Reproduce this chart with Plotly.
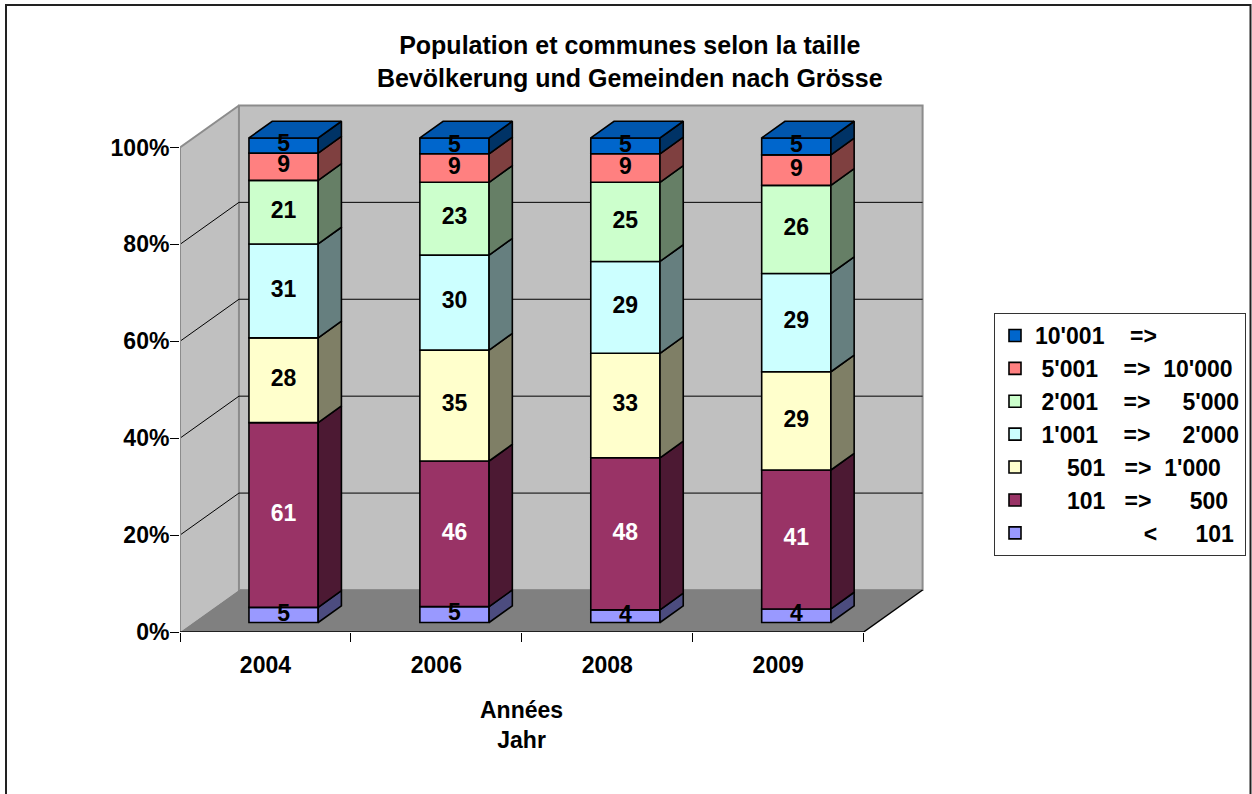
import plotly.graph_objects as go

# ---- data: number of communes per size class ----
years = ["2004", "2006", "2008", "2009"]
lt_101 = [5, 5, 4, 4]
c_101_500 = [61, 46, 48, 41]
c_501_1000 = [28, 35, 33, 29]
c_1001_2000 = [31, 30, 29, 29]
c_2001_5000 = [21, 23, 25, 26]
c_5001_10000 = [9, 9, 9, 9]
c_10001 = [5, 5, 5, 5]

NB = "\u00a0"
class_labels = [
    NB * 17 + "<" + NB * 6 + "101",
    NB * 5 + "101" + NB * 3 + "=>" + NB * 6 + "500",
    NB * 5 + "501" + NB * 3 + "=>" + NB * 2 + "1'000",
    NB + "1'001" + NB * 4 + "=>" + NB * 5 + "2'000",
    NB + "2'001" + NB * 4 + "=>" + NB * 5 + "5'000",
    NB + "5'001" + NB * 4 + "=>" + NB * 2 + "10'000",
    "10'001" + NB * 4 + "=>",
]
series = [lt_101, c_101_500, c_501_1000, c_1001_2000, c_2001_5000, c_5001_10000, c_10001]
front_colors = ["#9999FF", "#993366", "#FFFFCC", "#CCFFFF", "#CCFFCC", "#FF8080", "#0066CC"]
label_colors = ["black", "white", "black", "black", "black", "black", "black"]


def shade(hex_color, f):
    h = hex_color.lstrip("#")
    r, g, b = (int(h[i:i + 2], 16) for i in (0, 2, 4))
    return "rgb(%d,%d,%d)" % (r * f, g * f, b * f)


# ---- 3D geometry (axis units: one category = 1 on x, percent on y) ----
KX, KY = 0.345, 8.67            # wall depth offset
BAR_OFF, BAR_W = 0.106, 0.405   # front face centre offset / width
BAR_BASE = 1.96                 # bars stand slightly behind the front edge
BDX, BDY = 0.136, 3.45          # bar depth offset
NCAT = len(years)

totals = [sum(s[i] for s in series) for i in range(NCAT)]
pct = [[s[i] / totals[i] * 100 for i in range(NCAT)] for s in series]

fig = go.Figure()

# front faces + value labels
cum = [BAR_BASE] * NCAT
label_x, label_y, label_t, label_c = [], [], [], []
side_polys = []
for k, (vals, p) in enumerate(zip(series, pct)):
    xs = [i + 0.5 + BAR_OFF for i in range(NCAT)]
    bases = list(cum)
    fig.add_trace(go.Bar(
        x=xs, y=p, base=bases, width=BAR_W,
        marker=dict(color=front_colors[k], line=dict(color="black", width=1.6)),
        name=class_labels[k], textposition="none", hoverinfo="skip",
    ))
    sx, sy = [], []
    for i in range(NCAT):
        x1 = xs[i] + BAR_W / 2
        y0, y1 = bases[i], bases[i] + p[i]
        sx += [x1, x1 + BDX, x1 + BDX, x1, x1, None]
        sy += [y0, y0 + BDY, y1 + BDY, y1, y0, None]
        label_x.append(xs[i])
        label_y.append(y0 + p[i] / 2)
        label_t.append(str(vals[i]))
        label_c.append(label_colors[k])
        cum[i] = y1
    side_polys.append((sx, sy, shade(front_colors[k], 0.5)))

for sx, sy, col in side_polys:
    fig.add_trace(go.Scatter(
        x=sx, y=sy, mode="lines", fill="toself", fillcolor=col,
        line=dict(color="black", width=1.6), showlegend=False, hoverinfo="skip",
    ))

# top faces of the stacks
tx, ty = [], []
for i in range(NCAT):
    xc = i + 0.5 + BAR_OFF
    x0, x1 = xc - BAR_W / 2, xc + BAR_W / 2
    yt = cum[i]
    tx += [x0, x1, x1 + BDX, x0 + BDX, x0, None]
    ty += [yt, yt, yt + BDY, yt + BDY, yt, None]
fig.add_trace(go.Scatter(
    x=tx, y=ty, mode="lines", fill="toself", fillcolor=shade(front_colors[-1], 0.85),
    line=dict(color="black", width=1.6), showlegend=False, hoverinfo="skip",
))

fig.add_trace(go.Scatter(
    x=label_x, y=label_y, text=label_t, mode="text",
    textfont=dict(color=label_c, size=23, family="Liberation Sans, Arial", weight="bold"),
    showlegend=False, hoverinfo="skip",
))

# ---- walls, floor and gridlines ----
shapes = []
gray_edge = dict(color="#8C8C8C", width=2)
shapes.append(dict(type="path", layer="below",
                   path=f"M0,0 L{KX},{KY} L{KX},{100 + KY} L0,100 Z",
                   fillcolor="#C0C0C0", line=dict(width=0)))
shapes.append(dict(type="rect", layer="below", x0=KX, x1=NCAT + KX, y0=KY, y1=100 + KY,
                   fillcolor="#C0C0C0", line=gray_edge))
shapes.append(dict(type="path", layer="below",
                   path=f"M0,0 L{NCAT},0 L{NCAT + KX},{KY} L{KX},{KY} Z",
                   fillcolor="#808080", line=dict(width=0)))
for v in [20, 40, 60, 80]:
    shapes.append(dict(type="line", layer="below", x0=0, y0=v, x1=KX, y1=v + KY,
                       line=dict(color="black", width=1)))
    shapes.append(dict(type="line", layer="below", x0=KX, y0=v + KY, x1=NCAT + KX, y1=v + KY,
                       line=dict(color="black", width=1)))
shapes.append(dict(type="line", layer="below", x0=0, y0=0, x1=0, y1=100, line=gray_edge))
shapes.append(dict(type="line", layer="below", x0=0, y0=100, x1=KX, y1=100 + KY, line=gray_edge))
shapes.append(dict(type="line", layer="below", x0=0, y0=0, x1=NCAT, y1=0,
                   line=dict(color="black", width=1.5)))
shapes.append(dict(type="line", layer="below", x0=NCAT, y0=0, x1=NCAT + KX, y1=KY,
                   line=dict(color="black", width=1.5)))

# outer frame of the chart
L, R, T, B = 180, 320, 99, 162
W, H = 1252, 794
pw, ph = W - L - R, H - T - B


def px_x(v):
    return (v - L) / pw


def px_y(v):
    return (H - B - v) / ph


shapes.append(dict(type="rect", xref="paper", yref="paper",
                   x0=px_x(6), x1=px_x(1250.5), y0=px_y(800), y1=px_y(5),
                   line=dict(color="#222222", width=2), fillcolor="rgba(0,0,0,0)"))

font = dict(family="Liberation Sans, Arial", size=23, color="black", weight="bold")

fig.update_layout(
    width=W, height=H,
    margin=dict(l=L, r=R, t=T, b=B, pad=0, autoexpand=False),
    paper_bgcolor="white", plot_bgcolor="white",
    font=font,
    barmode="overlay",
    shapes=shapes,
    showlegend=True,
    title=dict(text="Population et communes selon la taille<br>Bevölkerung und Gemeinden nach Grösse",
               x=0.503, xref="container", y=1 - 54 / H, yref="container",
               xanchor="center", yanchor="middle",
               font=dict(family="Liberation Sans, Arial", size=25, color="black", weight="bold")),
    legend=dict(x=994 / W, y=1 - 313 / H, xref="container", yref="container",
                xanchor="left", yanchor="top",
                bgcolor="white", bordercolor="#333333", borderwidth=1,
                traceorder="reversed", font=font),
    xaxis=dict(range=[0, 4.4], showgrid=False, zeroline=False, showline=False,
               tickmode="array", tickvals=[i + 0.5 for i in range(NCAT)], ticktext=years,
               ticks="outside", ticklen=9, tickcolor="rgba(0,0,0,0)", ticklabelstandoff=3,
               minor=dict(tickmode="array", tickvals=list(range(NCAT + 1)),
                          ticks="outside", ticklen=9, tickcolor="black", tickwidth=1)),
    yaxis=dict(range=[0, 110], showgrid=False, zeroline=False, showline=False,
               tickmode="array", tickvals=[0, 20, 40, 60, 80, 100],
               ticktext=["0%", "20%", "40%", "60%", "80%", "100%"],
               ticks="outside", ticklen=9, tickcolor="black", tickwidth=1,
               ticklabelstandoff=-4),
    annotations=[dict(text="Années<br>Jahr", x=NCAT / 2, xref="x", y=px_y(725), yref="paper",
                      showarrow=False, xanchor="center", yanchor="middle", font=font)],
)

fig.write_html("out.html")
